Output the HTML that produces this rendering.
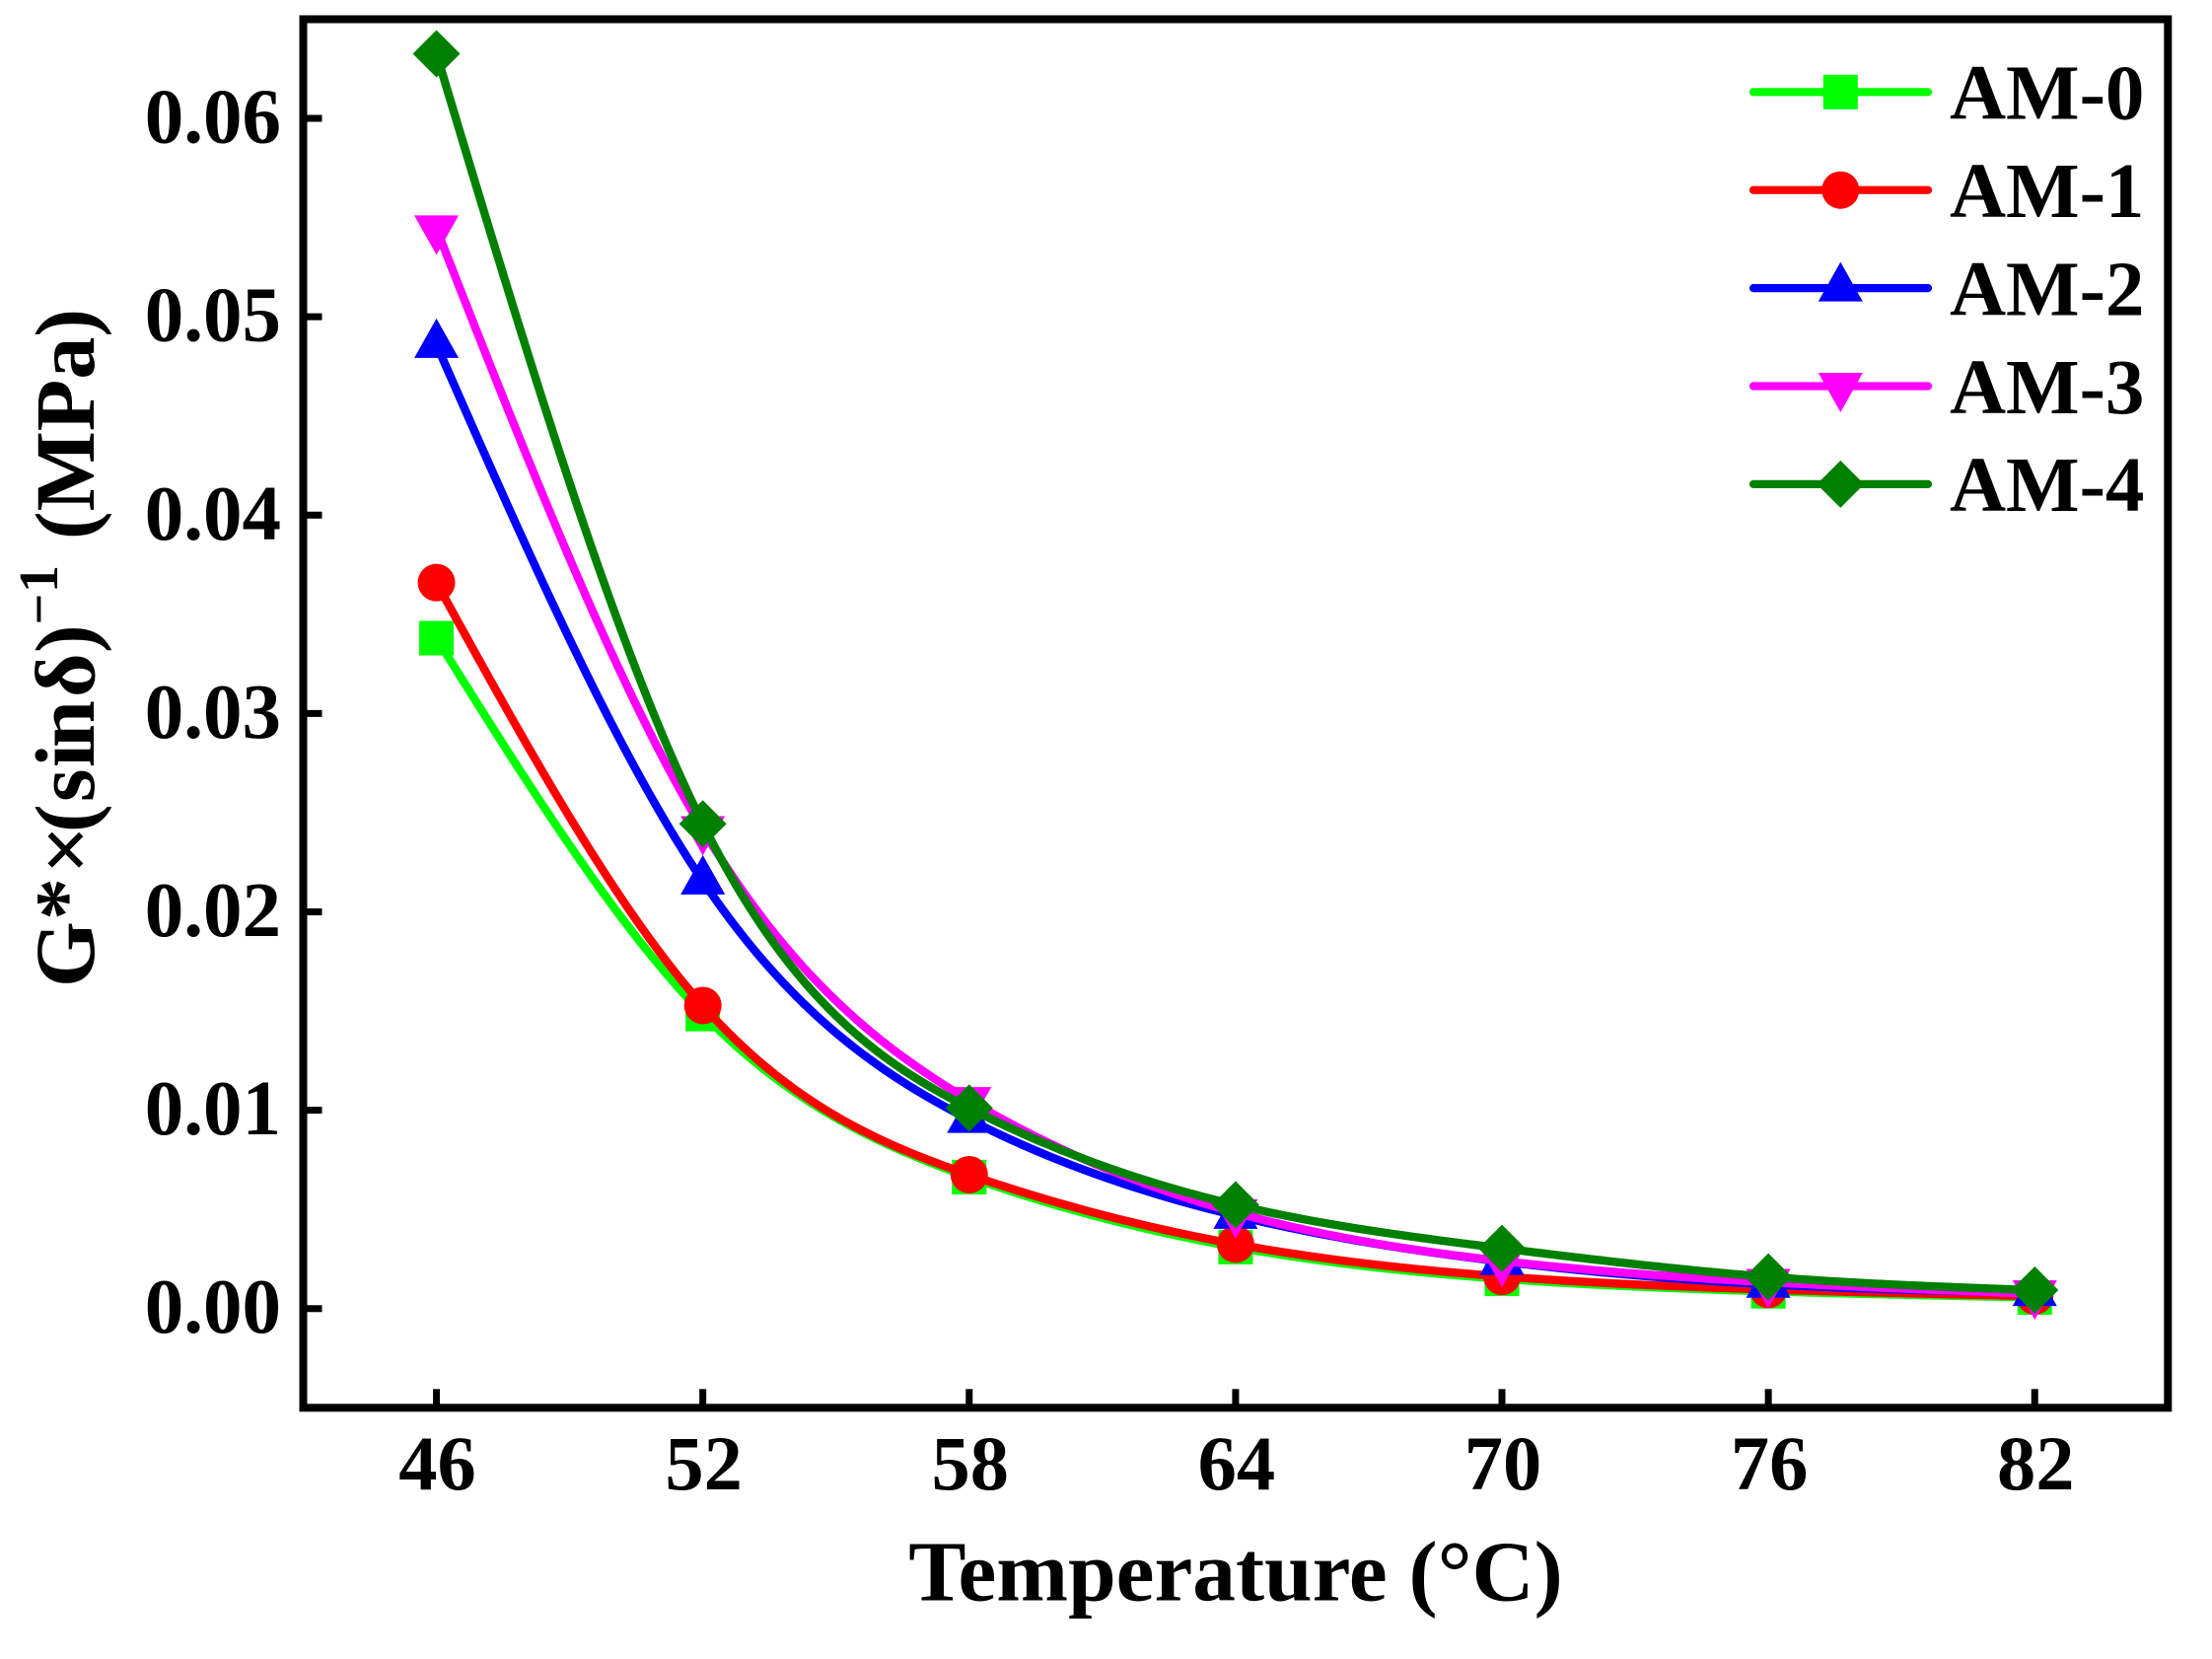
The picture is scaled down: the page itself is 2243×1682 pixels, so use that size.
<!DOCTYPE html>
<html lang="en">
<head>
<meta charset="utf-8">
<title>Temperature sweep of G*×(sinδ)^-1</title>
<style>
html,body{margin:0;padding:0;background:#fff;}
svg{display:block;}
text{font-family:"Liberation Serif","DejaVu Serif",serif;font-weight:bold;fill:#000;}
</style>
</head>
<body>
<svg id="chart" xmlns="http://www.w3.org/2000/svg" width="2243" height="1682" viewBox="0 0 2243 1682">
  <rect x="0" y="0" width="2243" height="1682" fill="#fff"/>
  <g id="series-layer"></g>
  <g id="axis-layer"></g>
  <rect x="307.5" y="19.5" width="1890.8" height="1407.8" fill="none" stroke="#000" stroke-width="8"/>
  <text x="1253" y="1622.5" font-size="87.4" text-anchor="middle">Temperature (°C)</text>
  <g transform="translate(95,1001) rotate(-90)">
    <text x="0 68 115 157 188 223 243 294 339" y="0" font-size="86">G*×(sinδ)</text>
    <text x="367.5 400" y="-37" font-size="56">−1</text>
    <text x="454" y="0" font-size="86">(MPa)</text>
  </g>
  <g id="legend-layer"></g>
</svg>
<script>
const temperatures = [46, 52, 58, 64, 70, 76, 82];
const am0Values = [0.0338, 0.01485, 0.00663, 0.0031, 0.0015, 0.00087, 0.00056];
const am1Values = [0.0366, 0.01528, 0.00675, 0.00325, 0.00162, 0.00096, 0.00063];
const am2Values = [0.0486, 0.02155, 0.00953, 0.00469, 0.00237, 0.00122, 0.0008];
const am3Values = [0.05444, 0.02415, 0.0105, 0.00484, 0.0024, 0.00133, 0.00075];
const am4Values = [0.06326, 0.02444, 0.01011, 0.00523, 0.00304, 0.0016, 0.00093];
const seriesNames = ['AM-0', 'AM-1', 'AM-2', 'AM-3', 'AM-4'];
const seriesColors = ['#00ff00', '#ff0000', '#0000ff', '#ff00ff', '#008000'];
const seriesShapes = ['square', 'circle', 'triangle-up', 'triangle-down', 'diamond'];
const xTickValues = [46, 52, 58, 64, 70, 76, 82];
const yTickValues = [0, 0.01, 0.02, 0.03, 0.04, 0.05, 0.06];
const yTickLabels = ['0.00', '0.01', '0.02', '0.03', '0.04', '0.05', '0.06'];

const allSeries = [am0Values, am1Values, am2Values, am3Values, am4Values];
const SVG_NS = 'http://www.w3.org/2000/svg';
const X_MIN = 43, X_MAX = 85, Y_MIN = -0.005, Y_MAX = 0.065;
const PLOT_LEFT = 307.5, PLOT_RIGHT = 2198.3, PLOT_TOP = 19.5, PLOT_BOTTOM = 1427.3;

function xScale(t) {
  return PLOT_LEFT + (t - X_MIN) / (X_MAX - X_MIN) * (PLOT_RIGHT - PLOT_LEFT);
}
function yScale(v) {
  return PLOT_BOTTOM - (v - Y_MIN) / (Y_MAX - Y_MIN) * (PLOT_BOTTOM - PLOT_TOP);
}
function make(tag, attrs, parent) {
  const el = document.createElementNS(SVG_NS, tag);
  Object.keys(attrs).forEach(function (k) { el.setAttribute(k, attrs[k]); });
  parent.appendChild(el);
  return el;
}

/* Natural cubic spline second derivatives */
function splineCoefficients(xs, ys) {
  const n = xs.length;
  const m = new Array(n).fill(0);
  const c = new Array(n).fill(0);
  const d = new Array(n).fill(0);
  for (let i = 1; i < n - 1; i++) {
    const h0 = xs[i] - xs[i - 1];
    const h1 = xs[i + 1] - xs[i];
    const rhs = 6 * ((ys[i + 1] - ys[i]) / h1 - (ys[i] - ys[i - 1]) / h0);
    const w = 2 * (h0 + h1) - h0 * c[i - 1];
    c[i] = h1 / w;
    d[i] = (rhs - h0 * d[i - 1]) / w;
  }
  for (let i = n - 2; i > 0; i--) {
    m[i] = d[i] - c[i] * m[i + 1];
  }
  return m;
}
function splinePath(xs, ys) {
  const m = splineCoefficients(xs, ys);
  let path = 'M' + xScale(xs[0]).toFixed(2) + ' ' + yScale(ys[0]).toFixed(2);
  for (let i = 0; i < xs.length - 1; i++) {
    const h = xs[i + 1] - xs[i];
    for (let s = 1; s <= 40; s++) {
      const t = s / 40;
      const a = 1 - t;
      const val = a * ys[i] + t * ys[i + 1] +
        ((a * a * a - a) * m[i] + (t * t * t - t) * m[i + 1]) * h * h / 6;
      path += 'L' + xScale(xs[i] + t * h).toFixed(2) + ' ' + yScale(val).toFixed(2);
    }
  }
  return path;
}
function drawMarker(shape, cx, cy, color, parent) {
  if (shape === 'square') {
    return make('rect', { x: cx - 17.5, y: cy - 17.5, width: 35, height: 35, fill: color }, parent);
  }
  if (shape === 'circle') {
    return make('circle', { cx: cx, cy: cy, r: 19, fill: color }, parent);
  }
  if (shape === 'triangle-up') {
    return make('polygon', { points: (cx - 22.5) + ',' + (cy + 13.5) + ' ' + (cx + 22.5) + ',' + (cy + 13.5) + ' ' + cx + ',' + (cy - 26.5), fill: color }, parent);
  }
  if (shape === 'triangle-down') {
    return make('polygon', { points: (cx - 22.5) + ',' + (cy - 13.5) + ' ' + (cx + 22.5) + ',' + (cy - 13.5) + ' ' + cx + ',' + (cy + 26.5), fill: color }, parent);
  }
  return make('polygon', { points: cx + ',' + (cy - 24) + ' ' + (cx + 24) + ',' + cy + ' ' + cx + ',' + (cy + 24) + ' ' + (cx - 24) + ',' + cy, fill: color }, parent);
}

const axisLayer = document.getElementById('axis-layer');
const seriesLayer = document.getElementById('series-layer');
const legendLayer = document.getElementById('legend-layer');

xTickValues.forEach(function (t) {
  const tick = make('line', { x1: xScale(t), x2: xScale(t), y1: PLOT_BOTTOM, y2: PLOT_BOTTOM - 19, stroke: '#000', 'stroke-width': 7 }, axisLayer);
  
  
  const label = make('text', { x: xScale(t) + 1, y: 1510, 'font-size': 78.5, 'text-anchor': 'middle' }, axisLayer);
  
  
  label.textContent = String(t);
});

yTickValues.forEach(function (v, i) {
  const tick = make('line', { x1: PLOT_LEFT, x2: PLOT_LEFT + 19, y1: yScale(v), y2: yScale(v), stroke: '#000', 'stroke-width': 7 }, axisLayer);
  
  
  const label = make('text', { x: 285, y: yScale(v) + 24.5, 'font-size': 79, 'text-anchor': 'end' }, axisLayer);
  
  
  label.textContent = yTickLabels[i];
});

allSeries.forEach(function (values, i) {
  const group = make('g', {}, seriesLayer);
  
  
  const curve = make('path', { d: splinePath(temperatures, values), fill: 'none', stroke: seriesColors[i], 'stroke-width': 8.4, 'stroke-linejoin': 'round' }, group);
  
  
  values.forEach(function (v, j) {
    const marker = drawMarker(seriesShapes[i], xScale(temperatures[j]), yScale(v), seriesColors[i], group);
    
    
  });
});

seriesNames.forEach(function (name, i) {
  const ly = 93.3 + i * 99.4;
  const entry = make('g', {}, legendLayer);
  
  
  const sample = make('line', { x1: 1778, x2: 1955, y1: ly, y2: ly, stroke: seriesColors[i], 'stroke-width': 8.2, 'stroke-linecap': 'round' }, entry);
  
  
  const marker = drawMarker(seriesShapes[i], 1866.3, ly, seriesColors[i], entry);
  
  
  const label = make('text', { x: 1977, y: ly + 27.3, 'font-size': 79 }, entry);
  
  
  label.textContent = name;
});
</script>
</body>
</html>
